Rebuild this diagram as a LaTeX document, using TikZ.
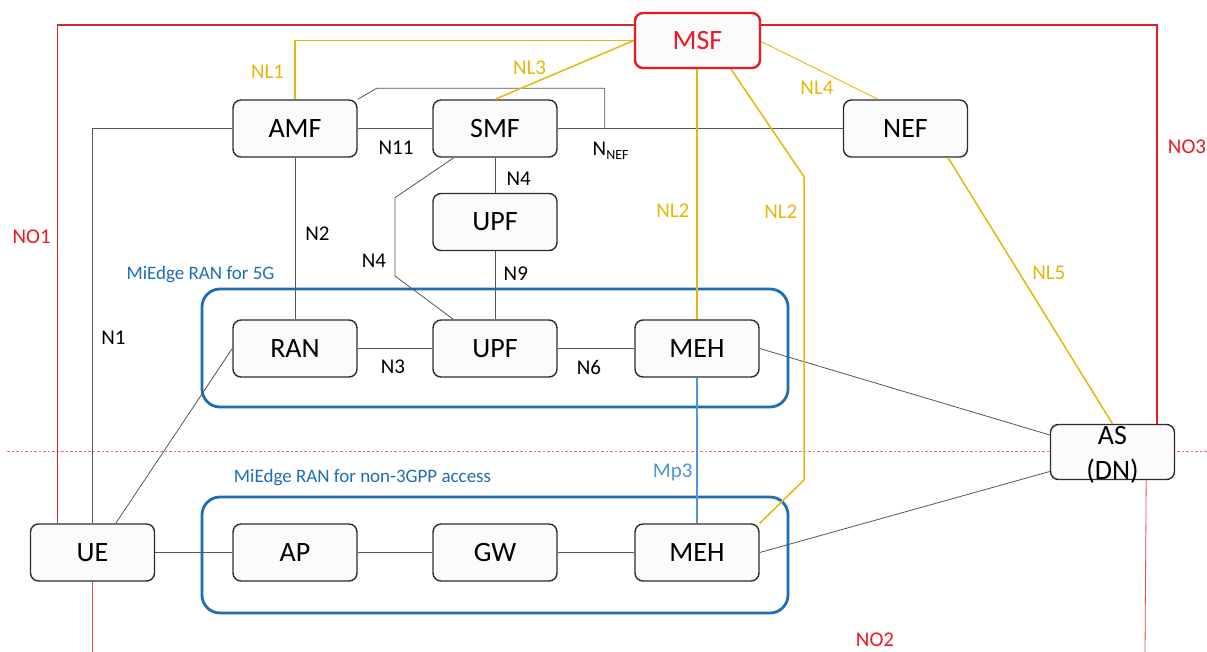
\documentclass[tikz,border=0pt]{standalone}
\usepackage{fontspec}
\setmainfont{Carlito}
\definecolor{nodeline}{RGB}{45,45,45}
\definecolor{nodefill}{RGB}{251,251,251}
\definecolor{wire}{RGB}{85,85,85}
\definecolor{nlgold}{RGB}{228,184,10}
\definecolor{msfred}{RGB}{235,25,35}
\definecolor{nored}{RGB}{205,45,45}
\definecolor{zoneblue}{RGB}{30,110,180}
\definecolor{mpblue}{RGB}{80,150,215}
\begin{document}
\begin{tikzpicture}[x=1pt,y=-1pt,
  fn/.style={draw=nodeline, line width=1.4pt, fill=nodefill, rounded corners=8pt,
    minimum width=124pt, minimum height=57pt, inner sep=0pt,
    font=\fontsize{28}{30}\selectfont, text=black},
  msfbox/.style={fn, draw=msfred, line width=2.4pt, text=msfred, minimum height=55pt, minimum width=125pt},
  zone/.style={draw=zoneblue, line width=2.8pt, rounded corners=18pt},
  zonelbl/.style={text=zoneblue, font=\fontsize{19}{21}\selectfont, inner sep=0pt},
  lbl/.style={font=\fontsize{21}{23}\selectfont, inner sep=0pt},
  wirec/.style={draw=wire, line width=0.8pt},
  nl/.style={draw=nlgold, line width=1.5pt},
  nllbl/.style={lbl, text=nlgold},
  nolink/.style={draw=nored, line width=1.5pt},
  nolbl/.style={lbl, text=msfred},
]
\useasboundingbox[fill=white] (0,0) rectangle (1207,652);

% boundary between the two access domains
\draw[draw=msfred!65, line width=1pt, dash pattern=on 2.5pt off 2pt] (7,451) -- (1207,451);

% MiEdge RAN domains
\draw[zone] (202,289) rectangle (788,407);
\draw[zone] (202,497) rectangle (788,613);
\node[zonelbl] (z5g) at (200.5,275) {MiEdge RAN for 5G};
\node[zonelbl] (zn3) at (362.5,477.5) {MiEdge RAN for non-3GPP access};

% network functions
\node[msfbox] (MSF) at (697.5,40.5) {MSF};
\node[fn] (AMF) at (295,128.5) {AMF};
\node[fn] (SMF) at (495,128.5) {SMF};
\node[fn] (NEF) at (905.5,128.5) {NEF};
\node[fn] (UPFa) at (495,222) {UPF};
\node[fn] (RAN) at (295,348.5) {RAN};
\node[fn] (UPFb) at (495,348.5) {UPF};
\node[fn] (MEHa) at (697,348.5) {MEH};
\node[fn] (UE) at (92.5,552.5) {UE};
\node[fn] (AP) at (295,552.5) {AP};
\node[fn] (GW) at (495,552.5) {GW};
\node[fn] (MEHb) at (697,552.5) {MEH};
\node[fn, minimum height=55pt] (AS) at (1112.5,452) {};
\node[font=\fontsize{28}{35}\selectfont, align=center, inner sep=0pt] (AStext) at (1112.5,455) {AS\\(DN)};

% 3GPP reference points
\coordinate (nnef) at (604.7,128.5);
\draw[wirec] (AMF.west) -| (UE.north);
\draw[wirec] (AMF.east) -- (SMF.west);
\draw[wirec] (SMF.east) -- (NEF.west);
\draw[wirec] (AMF.north east) -- (376.7,88.3) -- (604.7,88.3) -- (nnef);
\draw[wirec] (AMF.south) -- (RAN.north);
\draw[wirec] (SMF.south) -- (UPFa.north);
\draw[wirec] ([xshift=21.5pt]SMF.south west) -- (395,197.7) -- (395,276) -- ([xshift=21pt]UPFb.north west);
\draw[wirec] (UPFa.south) -- (UPFb.north);
\draw[wirec] (RAN.east) -- (UPFb.west);
\draw[wirec] (UPFb.east) -- (MEHa.west);
\draw[wirec] ([xshift=23.3pt]UE.north) -- (RAN.west);
\draw[wirec] (UE.east) -- (AP.west);
\draw[wirec] (AP.east) -- (GW.west);
\draw[wirec] (GW.east) -- (MEHb.west);
\draw[wirec] (MEHa.east) -- ([yshift=17pt]AS.west);
\draw[wirec] (MEHb.east) -- ([yshift=-19.5pt]AS.west);
\draw[draw=mpblue, line width=1.2pt] (MEHa.south) -- (MEHb.north);

% MSF links
\draw[nl] (AMF.north) |- (MSF.west);
\draw[nl] (SMF.north) -- (MSF.west);
\draw[nl, line width=0.9pt] ([yshift=-1pt]MSF.east) -- ([xshift=-27.5pt]NEF.north);
\draw[nl] (MEHa.north |- MSF.south) -- (MEHa.north);
\draw[nl] ([xshift=33.5pt]MSF.south) -- (804,176.7) -- (804,480) -- (MEHb.north east);
\draw[nl] ([xshift=42.5pt]NEF.south) -- (AS.north);

% operator links
\coordinate (uebot) at (92.5,652);
\coordinate (asbot) at (1145,652);
\draw[nolink] ([xshift=27.5pt]UE.north west) |- ([yshift=15.5pt]MSF.west);
\draw[nolink, draw=msfred] ([yshift=15.5pt]MSF.east) -| ([xshift=-18pt]AS.north east);
\draw[draw=msfred!80, line width=0.8pt] (UE.south) -- (uebot);
\draw[draw=msfred!80, line width=0.8pt] ([xshift=-29pt]AS.south east) -- (asbot);

% labels
\node[nllbl] (lNL1) at (267.6,72) {NL1};
\node[nllbl] (lNL3) at (529.6,67.7) {NL3};
\node[nllbl] (lNL4) at (817,88) {NL4};
\node[nllbl] (lNL2a) at (672.8,210.7) {NL2};
\node[nllbl] (lNL2b) at (780.8,211.7) {NL2};
\node[nllbl] (lNL5) at (1048.8,273.3) {NL5};
\node[lbl] (lN11) at (396,147.7) {N11};
\node[lbl, anchor=west] (lNNEF) at (592.5,151) {N{\fontsize{14}{14}\selectfont\raisebox{-4pt}{NEF}}};
\node[lbl] (lN4a) at (518.6,179) {N4};
\node[lbl] (lN2) at (317.4,234) {N2};
\node[lbl] (lN4b) at (374,261) {N4};
\node[lbl] (lN9) at (515.8,274) {N9};
\node[lbl] (lN1) at (113.4,337.3) {N1};
\node[lbl] (lN3) at (393,366.7) {N3};
\node[lbl] (lN6) at (589,367.3) {N6};
\node[lbl, text=mpblue] (lMp3) at (672.8,472.3) {Mp3};
\node[nolbl] (lNO1) at (31.6,236.7) {NO1};
\node[nolbl] (lNO3) at (1187,146.7) {NO3};
\node[nolbl] (lNO2) at (875,640) {NO2};
\end{tikzpicture}
\end{document}
